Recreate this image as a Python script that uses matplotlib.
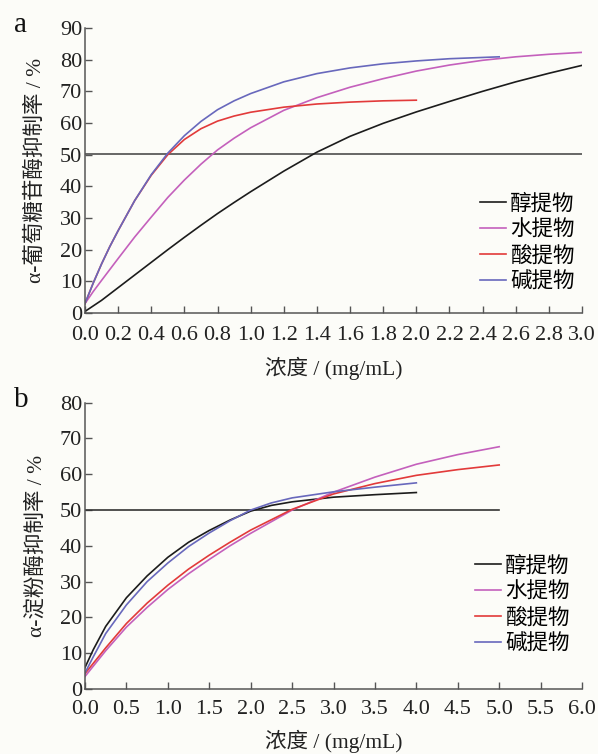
import numpy as np
import matplotlib.pyplot as plt

plt.rcParams['font.family'] = ['Liberation Serif', 'Noto Sans CJK SC']
plt.rcParams['axes.unicode_minus'] = False

nomes = ["醇提物", "水提物", "酸提物", "碱提物"]
cores = ["#1c1c1c", "#c460bc", "#e23a3a", "#6868bc"]

# ---- painel a: alfa-glicosidase ----
xa_alc = [0, 0.1, 0.2, 0.3, 0.4, 0.5, 0.6, 0.7, 0.8, 0.9, 1.0, 1.2, 1.4, 1.6, 1.8, 2.0, 2.2, 2.4, 2.6, 2.8, 3.0]
ya_alc = [0.5, 4, 8, 12, 16, 20, 23.9, 27.7, 31.4, 34.9, 38.3, 44.8, 50.8, 55.8, 59.9, 63.5, 66.8, 70, 73, 75.7, 78.2]
xa_agua = [0, 0.05, 0.1, 0.2, 0.3, 0.4, 0.5, 0.6, 0.7, 0.8, 0.9, 1.0, 1.2, 1.4, 1.6, 1.8, 2.0, 2.2, 2.4, 2.6, 2.8, 3.0]
ya_agua = [3, 6.8, 10.3, 17.2, 24, 30.3, 36.5, 42, 47, 51.5, 55.2, 58.5, 64, 68, 71.3, 74, 76.4, 78.3, 79.8, 80.9, 81.7, 82.3]
xa_acido = [0, 0.05, 0.1, 0.15, 0.2, 0.3, 0.4, 0.5, 0.6, 0.7, 0.8, 0.9, 1.0, 1.2, 1.4, 1.6, 1.8, 2.0]
ya_acido = [3, 9.5, 15.5, 21, 26, 35.5, 43.5, 50, 54.8, 58.2, 60.6, 62.2, 63.4, 65, 66, 66.6, 67, 67.2]
xa_base = [0, 0.05, 0.1, 0.15, 0.2, 0.3, 0.4, 0.5, 0.6, 0.7, 0.8, 0.9, 1.0, 1.2, 1.4, 1.6, 1.8, 2.0, 2.2, 2.5]
ya_base = [3, 9.5, 15.5, 21, 26, 35.5, 43.7, 50.5, 56, 60.5, 64.2, 67, 69.3, 73, 75.6, 77.4, 78.7, 79.6, 80.3, 80.9]

# ---- painel b: alfa-amilase ----
xb_alc = [0, 0.1, 0.25, 0.5, 0.75, 1.0, 1.25, 1.5, 1.75, 2.0, 2.25, 2.5, 3.0, 3.5, 4.0]
yb_alc = [6, 11, 17.5, 25.5, 31.6, 36.8, 41, 44.3, 47.2, 49.7, 51.3, 52.3, 53.6, 54.3, 54.9]
xb_agua = [0, 0.25, 0.5, 0.75, 1.0, 1.25, 1.5, 1.75, 2.0, 2.5, 3.0, 3.5, 4.0, 4.5, 5.0]
yb_agua = [3.5, 10.7, 17.3, 22.8, 27.8, 32.2, 36.2, 40, 43.5, 50, 55, 59.2, 62.8, 65.5, 67.7]
xb_acido = [0, 0.25, 0.5, 0.75, 1.0, 1.25, 1.5, 1.75, 2.0, 2.5, 3.0, 3.5, 4.0, 4.5, 5.0]
yb_acido = [4.3, 11.5, 18.3, 24, 29, 33.5, 37.4, 41, 44.4, 50.2, 54.5, 57.4, 59.7, 61.3, 62.6]
xb_base = [0, 0.1, 0.25, 0.5, 0.75, 1.0, 1.25, 1.5, 1.75, 2.0, 2.25, 2.5, 3.0, 3.5, 4.0]
yb_base = [4.5, 9, 15.5, 23.5, 30, 35.2, 39.8, 43.6, 47, 50, 52, 53.4, 55.1, 56.4, 57.6]

fig = plt.figure(figsize=(5.98, 7.54), dpi=100)
fig.patch.set_facecolor("#fcfcf8")

ax1 = fig.add_axes([85/598, 1-313/754, 497/598, 285/754])
ax2 = fig.add_axes([85/598, 1-689/754, 497/598, 286.3/754])

fs = 16
fl = 15.5

def estilo(ax, xpad):
    ax.set_facecolor("#fcfcf8")
    for s in ["top", "right"]:
        ax.spines[s].set_visible(False)
    for s in ["left", "bottom"]:
        ax.spines[s].set_color("#555555")
        ax.spines[s].set_linewidth(1.1)
    ax.tick_params(direction="in", length=5, width=1, colors="#555555",
                   labelcolor="#222222", labelsize=fs)
    ax.tick_params(axis="x", pad=xpad)
    ax.tick_params(axis="y", pad=2)


# painel a
ax1.plot([0, 3.0], [50.3, 50.3], color="#666666", lw=1.4)
ax1.plot(xa_alc, ya_alc, color=cores[0], lw=1.2, label=nomes[0])
ax1.plot(xa_agua, ya_agua, color=cores[1], lw=1.2, label=nomes[1])
ax1.plot(xa_acido, ya_acido, color=cores[2], lw=1.2, label=nomes[2])
ax1.plot(xa_base, ya_base, color=cores[3], lw=1.2, label=nomes[3])
ax1.set_xlim(0, 3.0)
ax1.set_ylim(0, 90)
ax1.set_xticks(np.arange(0, 3.01, 0.2))
ax1.set_xticklabels(["%.1f" % v for v in np.arange(0, 3.01, 0.2)])
ax1.set_yticks(range(0, 91, 10))
estilo(ax1, 9)
ax1.set_ylabel("α-葡萄糖苷酶抑制率 / %", fontsize=fl, color="#222222", labelpad=10)
ax1.set_xlabel("浓度 / (mg/mL)", fontsize=fl, color="#222222", labelpad=9)
ax1.legend(loc="center left", bbox_to_anchor=(0.795, 0.244), frameon=False,
           fontsize=fl, handlelength=1.2, handletextpad=0.2, labelspacing=0.27,
           borderpad=0, borderaxespad=0)

# painel b
ax2.plot([0, 5.0], [50, 50], color="#333333", lw=1.2)
ax2.plot(xb_alc, yb_alc, color=cores[0], lw=1.2, label=nomes[0])
ax2.plot(xb_agua, yb_agua, color=cores[1], lw=1.2, label=nomes[1])
ax2.plot(xb_acido, yb_acido, color=cores[2], lw=1.2, label=nomes[2])
ax2.plot(xb_base, yb_base, color=cores[3], lw=1.2, label=nomes[3])
ax2.set_xlim(0, 6.0)
ax2.set_ylim(0, 80)
ax2.set_xticks(np.arange(0, 6.01, 0.5))
ax2.set_xticklabels(["%.1f" % v for v in np.arange(0, 6.01, 0.5)])
ax2.set_yticks(range(0, 81, 10))
estilo(ax2, 8)
ax2.set_ylabel("α-淀粉酶抑制率 / %", fontsize=fl, color="#222222", labelpad=10)
ax2.set_xlabel("浓度 / (mg/mL)", fontsize=fl, color="#222222", labelpad=8)
ax2.legend(loc="center left", bbox_to_anchor=(0.785, 0.291), frameon=False,
           fontsize=fl, handlelength=1.2, handletextpad=0.2, labelspacing=0.27,
           borderpad=0, borderaxespad=0)

fig.text(14/598, 1-25/754, "a", fontsize=21, color="#111111", va="center")
fig.text(14/598, 1-400/754, "b", fontsize=21, color="#111111", va="center")

fig.savefig("out.png", dpi=100, facecolor=fig.get_facecolor())
